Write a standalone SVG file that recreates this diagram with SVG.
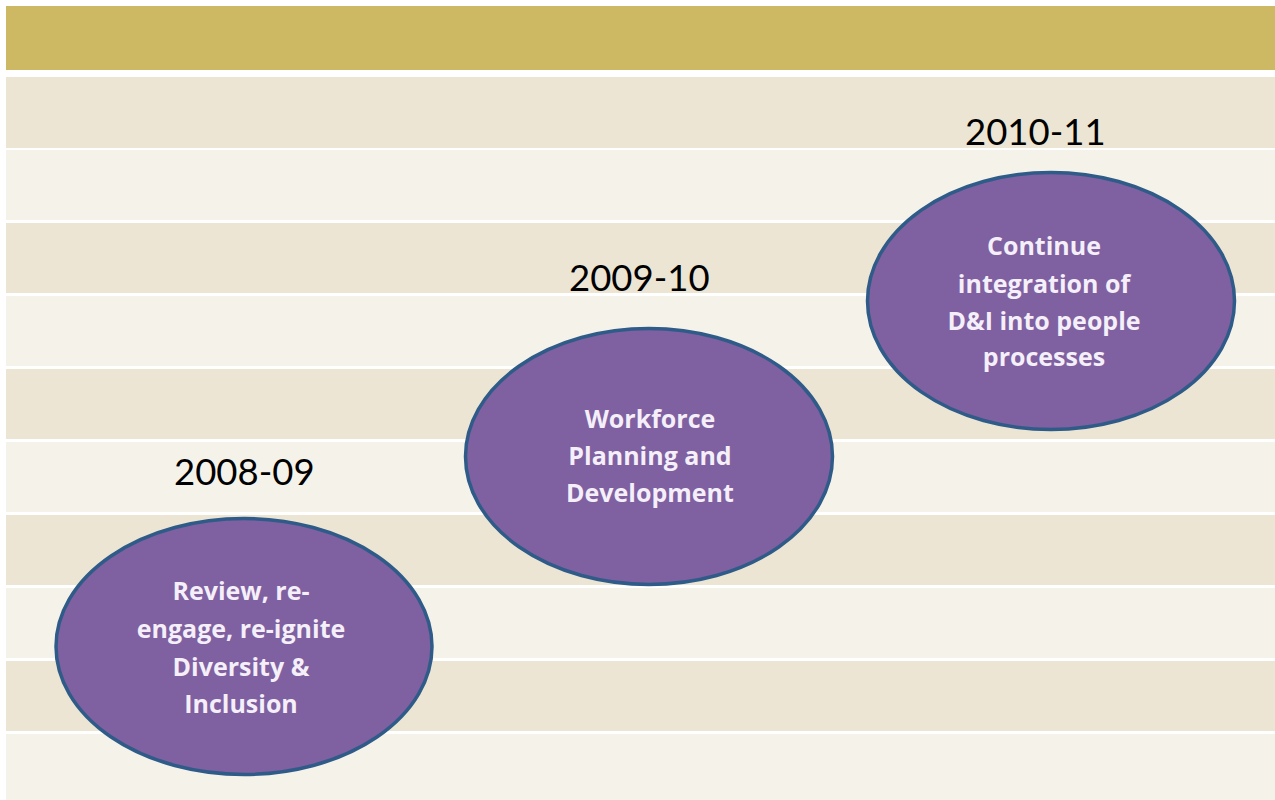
<svg xmlns="http://www.w3.org/2000/svg" width="1275" height="800" viewBox="0 0 1275 800">
  <style>
    .band-a { fill: #ece5d3; }
    .band-b { fill: #f5f2ea; }
    .stage { fill: #7f60a1; stroke: #2f5b88; stroke-width: 3.5; }
    .stage-text { font-family: "Open Sans", "DejaVu Sans", sans-serif; font-weight: 700; font-size: 25px; fill: #f4eff8; text-anchor: middle; }
    .year { font-family: Lato, "Open Sans", sans-serif; font-size: 36.5px; fill: #000; }
  </style>

  <!-- page background -->
  <rect x="0" y="0" width="1275" height="800" fill="#ffffff"/>

  <!-- header bar -->
  <rect x="6" y="6" width="1269" height="64" fill="#cdb964"/>

  <!-- alternating horizontal bands -->
  <g id="bands">
    <rect class="band-a" x="6" y="77" width="1269" height="71"/>
    <rect class="band-b" x="6" y="150" width="1269" height="70"/>
    <rect class="band-a" x="6" y="223" width="1269" height="70"/>
    <rect class="band-b" x="6" y="296" width="1269" height="70"/>
    <rect class="band-a" x="6" y="369" width="1269" height="70"/>
    <rect class="band-b" x="6" y="442" width="1269" height="70"/>
    <rect class="band-a" x="6" y="515" width="1269" height="70"/>
    <rect class="band-b" x="6" y="588" width="1269" height="70"/>
    <rect class="band-a" x="6" y="661" width="1269" height="70"/>
    <rect class="band-b" x="6" y="734" width="1269" height="66"/>
  </g>

  <g id="connectors"></g>

  <!-- stage 1 -->
  <g id="stage-2008">
    <text class="year" x="174" y="485">2008-09</text>
    <ellipse class="stage" cx="244" cy="646.5" rx="188" ry="128"/>
    <text class="stage-text" x="241" y="600">Review, re-</text>
    <text class="stage-text" x="241" y="638">engage, re-ignite</text>
    <text class="stage-text" x="241" y="676">Diversity &amp;</text>
    <text class="stage-text" x="241" y="713">Inclusion</text>
  </g>

  <!-- stage 2 -->
  <g id="stage-2009">
    <text class="year" x="569" y="291">2009-10</text>
    <ellipse class="stage" cx="649" cy="456.5" rx="183.5" ry="128"/>
    <text class="stage-text" x="650" y="428">Workforce</text>
    <text class="stage-text" x="650" y="465">Planning and</text>
    <text class="stage-text" x="650" y="502">Development</text>
  </g>

  <!-- stage 3 -->
  <g id="stage-2010">
    <text class="year" x="965" y="145">2010-11</text>
    <ellipse class="stage" cx="1051" cy="301" rx="183.5" ry="128.5"/>
    <text class="stage-text" x="1044" y="255">Continue</text>
    <text class="stage-text" x="1044" y="293">integration of</text>
    <text class="stage-text" x="1044" y="330">D&amp;I into people</text>
    <text class="stage-text" x="1044" y="366">processes</text>
  </g>
</svg>
